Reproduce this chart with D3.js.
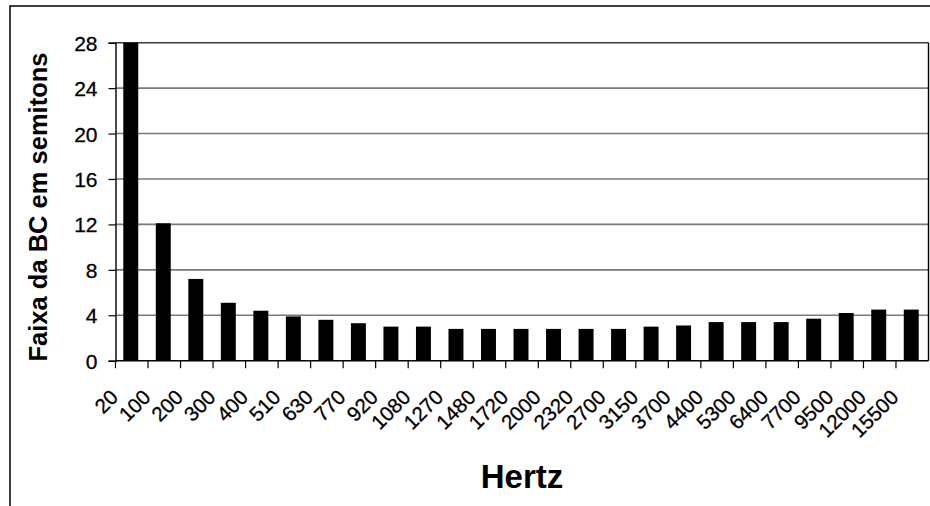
<!DOCTYPE html>
<html>
<head>
<meta charset="utf-8">
<script src="https://cdn.jsdelivr.net/npm/d3@7"></script>
<style>
  html, body { margin: 0; padding: 0; background: #fff; }
  svg { display: block; }
  text { font-family: "Liberation Sans", Arial, sans-serif; fill: #000; }
  .tick-label { stroke: #000; stroke-width: 0.3px; }
</style>
</head>
<body>
<svg id="chart" width="930" height="506"></svg>
<script>
// Frequency bands (Hz) and the width of the critical band in semitones
const categories = ["20", "100", "200", "300", "400", "510", "630", "770", "920", "1080",
  "1270", "1480", "1720", "2000", "2320", "2700", "3150", "3700", "4400", "5300",
  "6400", "7700", "9500", "12000", "15500"];
const semitones = [28, 12.1, 7.2, 5.1, 4.4, 3.9, 3.6, 3.3, 3.0, 3.0,
  2.8, 2.8, 2.8, 2.8, 2.8, 2.8, 3.0, 3.1, 3.4, 3.4,
  3.4, 3.7, 4.2, 4.5, 4.5];
const yTicks = [0, 4, 8, 12, 16, 20, 24, 28];
const yTitle = "Faixa da BC em semitons";
const xTitle = "Hertz";

const svg = d3.select("#chart");
const plot = { left: 115.5, right: 928.5, top: 42.7, bottom: 360.7 };

// Outer chart frame (continues past the right and bottom edges)
svg.append("rect")
  .attr("x", 10).attr("y", 6)
  .attr("width", 940).attr("height", 520)
  .attr("fill", "#fff")
  .attr("stroke", "#000").attr("stroke-width", 1.5);

const x = d3.scaleBand()
  .domain(categories)
  .range([plot.left, plot.right])
  .paddingInner(0.54)
  .paddingOuter(0.27);

const y = d3.scaleLinear()
  .domain([0, 28])
  .range([plot.bottom, plot.top]);

// Horizontal gridlines
svg.append("g")
  .selectAll("line")
  .data(yTicks.filter(d => d > 0 && d < 28))
  .join("line")
  .attr("x1", plot.left).attr("x2", plot.right)
  .attr("y1", d => y(d)).attr("y2", d => y(d))
  .attr("stroke", "#7a7a7a").attr("stroke-width", 1.6);

// Plot-area top and right edges
svg.append("line")
  .attr("x1", plot.left).attr("x2", plot.right)
  .attr("y1", y(28)).attr("y2", y(28))
  .attr("stroke", "#3a3a3a").attr("stroke-width", 1.6);
svg.append("line")
  .attr("x1", plot.right).attr("x2", plot.right)
  .attr("y1", plot.top).attr("y2", plot.bottom)
  .attr("stroke", "#000").attr("stroke-width", 1.4);

// Bars
svg.append("g")
  .selectAll("rect")
  .data(categories.map((c, i) => ({ c, v: semitones[i] })))
  .join("rect")
  .attr("x", d => x(d.c) - 1)
  .attr("y", d => y(d.v))
  .attr("width", x.bandwidth())
  .attr("height", d => y(0) - y(d.v))
  .attr("fill", "#000");

// Y axis
const yAxis = d3.axisLeft(y)
  .tickValues(yTicks)
  .tickSize(7)
  .tickPadding(11)
  .tickFormat(d3.format("d"));
const gy = svg.append("g")
  .attr("transform", `translate(${plot.left},0)`)
  .call(yAxis);
gy.attr("font-size", null).attr("font-family", null);
gy.select(".domain").attr("stroke", "#000").attr("stroke-width", 1.4);
gy.selectAll(".tick line").attr("stroke", "#000").attr("stroke-width", 1.2);
gy.selectAll(".tick text")
  .attr("class", "tick-label")
  .style("font-size", "21px")
  .attr("dy", "0.36em");

// X axis: ticks at the band boundaries, labels rotated under each band
const step = x.step();
const edges = d3.range(categories.length).map(i => plot.left + i * step);
const gx = svg.append("g");
gx.append("line")
  .attr("x1", plot.left).attr("x2", plot.right)
  .attr("y1", plot.bottom).attr("y2", plot.bottom)
  .attr("stroke", "#000").attr("stroke-width", 1.4);
gx.selectAll("line.tick")
  .data(edges)
  .join("line")
  .attr("class", "tick")
  .attr("x1", d => d).attr("x2", d => d)
  .attr("y1", plot.bottom).attr("y2", plot.bottom + 7.5)
  .attr("stroke", "#000").attr("stroke-width", 1.2);
gx.selectAll("text")
  .data(categories)
  .join("text")
  .attr("class", "tick-label")
  .attr("text-anchor", "end")
  .attr("transform", d => `translate(${x(d) + x.bandwidth() / 2 - 12.5},398.5) rotate(-45)`)
  .style("font-size", "20.5px")
  .text(d => d);

// Axis titles
svg.append("text")
  .attr("transform", `translate(46.5,${(52 + 362) / 2}) rotate(-90)`)
  .attr("text-anchor", "middle")
  .style("font-size", "25.5px")
  .style("font-weight", "bold")
  .text(yTitle);

svg.append("text")
  .attr("x", (plot.left + plot.right) / 2)
  .attr("y", 488)
  .attr("text-anchor", "middle")
  .style("font-size", "33px")
  .style("font-weight", "bold")
  .text(xTitle);
</script>
</body>
</html>
